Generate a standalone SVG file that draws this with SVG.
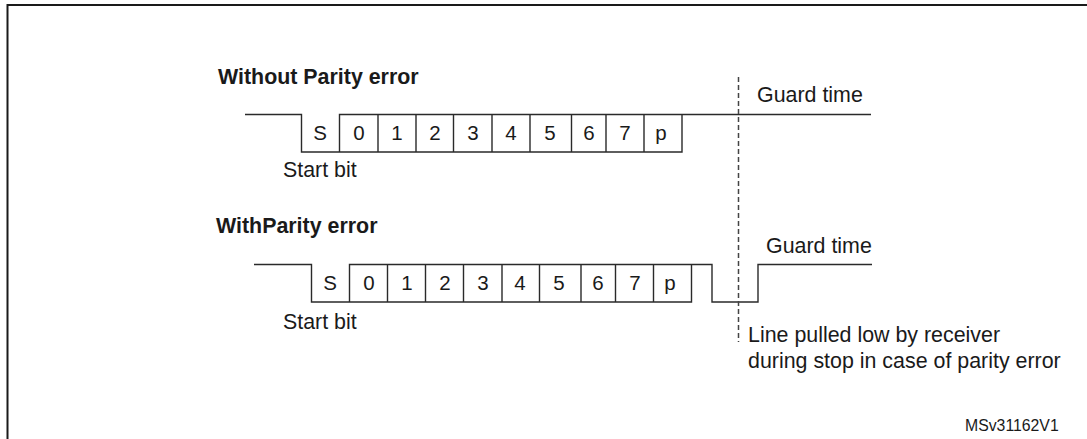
<svg xmlns="http://www.w3.org/2000/svg" width="1087" height="439" viewBox="0 0 1087 439">
<style>
text{font-family:"Liberation Sans",Arial,sans-serif;fill:#1a1a1a;font-size:21.4px}
.b{font-weight:bold}
.c{text-anchor:middle;font-size:20.5px}
.s{font-size:15.8px}
.w{fill:none;stroke:#2a2a2a;stroke-width:1.4}
.d{fill:none;stroke:#444;stroke-width:1.5;stroke-dasharray:5 3}
.f{fill:none;stroke:#1a1a1a;stroke-width:2}
</style>
<rect width="1087" height="439" fill="#fff"/>
<path id="frame" class="f" d="M7.5 439V5H1087"/>
<g id="connectors">
<path class="w" d="M245 114.5H301.5V152H682V114.5M339.5 152V114.5H871M378 114.5V152M416 114.5V152M453.5 114.5V152M492 114.5V152M530 114.5V152M571.5 114.5V152M606 114.5V152M644 114.5V152"/>
<path class="w" d="M254 264.5H311.5V302H691.5V264.5M349.5 302V264.5H712V302H758V264.5H872M387.5 264.5V302M425.5 264.5V302M463.5 264.5V302M502 264.5V302M539.5 264.5V302M581 264.5V302M615.5 264.5V302M653.5 264.5V302"/>
<path class="d" d="M738.5 77V342"/>
</g>
<g id="row1">
<text class="b" x="218" y="84">Without Parity error</text>
<text class="c" x="320" y="139.5">S</text><text class="c" x="359" y="139.5">0</text><text class="c" x="397" y="139.5">1</text><text class="c" x="435" y="139.5">2</text><text class="c" x="473" y="139.5">3</text><text class="c" x="511" y="139.5">4</text><text class="c" x="550" y="139.5">5</text><text class="c" x="589" y="139.5">6</text><text class="c" x="625" y="139.5">7</text><text class="c" x="661" y="139.5">p</text>
<text x="283" y="177">Start bit</text>
<text x="757" y="102">Guard time</text>
</g>
<g id="row2">
<text class="b" x="216" y="233">WithParity error</text>
<text class="c" x="330" y="289.5">S</text><text class="c" x="369" y="289.5">0</text><text class="c" x="407" y="289.5">1</text><text class="c" x="445" y="289.5">2</text><text class="c" x="483" y="289.5">3</text><text class="c" x="520" y="289.5">4</text><text class="c" x="559" y="289.5">5</text><text class="c" x="598" y="289.5">6</text><text class="c" x="635" y="289.5">7</text><text class="c" x="670" y="289.5">p</text>
<text x="283" y="329">Start bit</text>
<text x="766" y="252.5">Guard time</text>
</g>
<g id="note">
<text x="748" y="341.5">Line pulled low by receiver</text>
<text x="748" y="368">during stop in case of parity error</text>
<text class="s" x="965" y="430.5">MSv31162V1</text>
</g>
</svg>
